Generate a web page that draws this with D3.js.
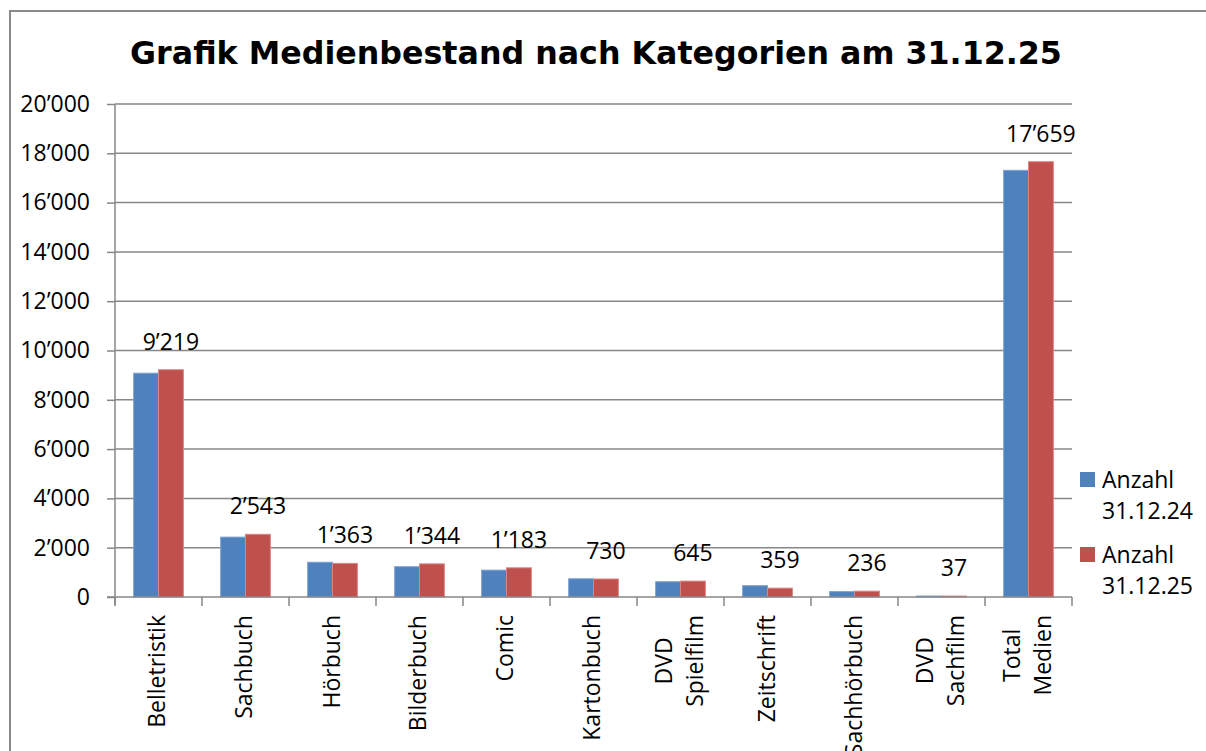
<!DOCTYPE html>
<html>
<head>
<meta charset="utf-8">
<script src="https://cdn.jsdelivr.net/npm/d3@7"></script>
<style>
  html, body { margin: 0; padding: 0; background: #fff; }
  svg { display: block; }
</style>
</head>
<body>
<svg id="chart" width="1206" height="751"></svg>
<script>
// ---- Data ----
const categories = ["Belletristik", "Sachbuch", "Hörbuch", "Bilderbuch", "Comic", "Kartonbuch",
  "DVD\nSpielfilm", "Zeitschrift", "Sachhörbuch", "DVD\nSachfilm", "Total\nMedien"];
const seriesNames = ["Anzahl\n31.12.24", "Anzahl\n31.12.25"];
const values2024 = [9080, 2430, 1410, 1230, 1090, 740, 620, 460, 220, 40, 17310];
const values2025 = [9219, 2543, 1363, 1344, 1183, 730, 645, 359, 236, 37, 17659];
const yTicks = [0, 2000, 4000, 6000, 8000, 10000, 12000, 14000, 16000, 18000, 20000];
const titleText = "Grafik Medienbestand nach Kategorien am 31.12.25";

// ---- Layout / style ----
const W = 1206, H = 751;
const plot = { left: 115, right: 1072, top: 104, bottom: 597 };
const colors = ["#4F81BD", "#C0504D"];
const strokeColors = ["#7FA3D2", "#D88583"];
const gridColor = "#878787";
const textFont = "'Open Sans', 'Liberation Sans', sans-serif";
const fs = 23;
const fmt = v => d3.format(",")(v).replace(/,/g, "’");

const svg = d3.select("#chart");

// outer frame (top and left edges)
svg.append("path")
  .attr("d", `M10,${H + 2} V11 H${W + 2}`)
  .attr("fill", "none").attr("stroke", "#8a8a8a").attr("stroke-width", 2);

// title
const title = svg.append("text")
  .attr("x", 596).attr("y", 64)
  .attr("text-anchor", "middle")
  .attr("font-family", "'DejaVu Sans', Verdana, sans-serif")
  .attr("font-weight", "bold")
  .attr("font-size", 28)
  .attr("fill", "#000")
  .text(titleText);
const tw = title.node().getComputedTextLength();
title.attr("font-size", 28 * 932 / tw);

// scales
const x0 = d3.scaleBand().domain(categories).range([plot.left, plot.right]).paddingInner(0).paddingOuter(0);
const barW = x0.bandwidth() / 3.5;
const y = d3.scaleLinear().domain([0, 20000]).range([plot.bottom, plot.top]);

// gridlines
svg.append("g").selectAll("line").data(yTicks.filter(d => d > 0)).join("line")
  .attr("x1", plot.left).attr("x2", plot.right)
  .attr("y1", d => y(d)).attr("y2", d => y(d))
  .attr("stroke", gridColor).attr("stroke-width", 1.5);

// y axis
const yAxis = svg.append("g")
  .attr("transform", `translate(${plot.left},0)`)
  .call(d3.axisLeft(y).tickValues(yTicks).tickSize(8).tickPadding(17).tickFormat(fmt));
yAxis.select(".domain").remove();
yAxis.selectAll(".tick line").attr("stroke", gridColor).attr("stroke-width", 1.5);
yAxis.selectAll(".tick text")
  .attr("font-family", textFont).attr("font-size", fs).attr("fill", "#000");
svg.append("line")
  .attr("x1", plot.left).attr("x2", plot.left)
  .attr("y1", plot.top).attr("y2", plot.bottom + 8)
  .attr("stroke", gridColor).attr("stroke-width", 1.5);

// bars
const series = [values2024, values2025];
series.forEach((vals, si) => {
  svg.append("g").selectAll("rect").data(vals).join("rect")
    .attr("x", (d, i) => x0(categories[i]) + barW * 0.75 + si * barW)
    .attr("y", d => y(d))
    .attr("width", barW)
    .attr("height", d => plot.bottom - y(d))
    .attr("fill", colors[si])
    .attr("stroke", strokeColors[si]).attr("stroke-width", 1);
});

// x axis line and ticks
svg.append("line")
  .attr("x1", plot.left - 8).attr("x2", plot.right)
  .attr("y1", plot.bottom).attr("y2", plot.bottom)
  .attr("stroke", gridColor).attr("stroke-width", 1.5);
const bounds = categories.map(c => x0(c)).concat([plot.right]);
svg.append("g").selectAll("line").data(bounds).join("line")
  .attr("x1", d => d).attr("x2", d => d)
  .attr("y1", plot.bottom).attr("y2", plot.bottom + 9)
  .attr("stroke", gridColor).attr("stroke-width", 1.5);

// value labels (series 2025)
svg.append("g").selectAll("text").data(values2025).join("text")
  .attr("x", (d, i) => x0(categories[i]) + barW * 1.75 + barW / 2)
  .attr("y", d => y(d) - 20)
  .attr("text-anchor", "middle")
  .attr("font-family", textFont).attr("font-size", fs).attr("fill", "#000")
  .text(fmt);

// category labels (rotated)
const labG = svg.append("g");
categories.forEach(c => {
  const lines = c.split("\n");
  const cx = x0(c) + x0.bandwidth() / 2;
  const tmp = lines.map(l => {
    const t = labG.append("text").attr("font-family", textFont).attr("font-size", fs).text(l);
    const w = t.node().getComputedTextLength();
    t.remove();
    return w;
  });
  const maxLen = d3.max(tmp);
  const cy = 615 + maxLen / 2;
  lines.forEach((l, i) => {
    const lx = cx + (i - (lines.length - 1) / 2) * 31 - 2;
    labG.append("text")
      .attr("x", lx).attr("y", cy)
      .attr("transform", `rotate(-90,${lx},${cy})`)
      .attr("text-anchor", "middle")
      .attr("dominant-baseline", "central")
      .attr("font-family", textFont).attr("font-size", fs).attr("fill", "#000")
      .text(l);
  });
});

// legend
const legY = [472, 547];
seriesNames.forEach((name, si) => {
  svg.append("rect")
    .attr("x", 1080).attr("y", legY[si]).attr("width", 15).attr("height", 15)
    .attr("fill", colors[si]);
  name.split("\n").forEach((l, li) => {
    svg.append("text")
      .attr("x", 1102).attr("y", legY[si] + 16 + li * 31)
      .attr("font-family", textFont).attr("font-size", fs).attr("fill", "#000")
      .text(l);
  });
});
</script>
</body>
</html>
